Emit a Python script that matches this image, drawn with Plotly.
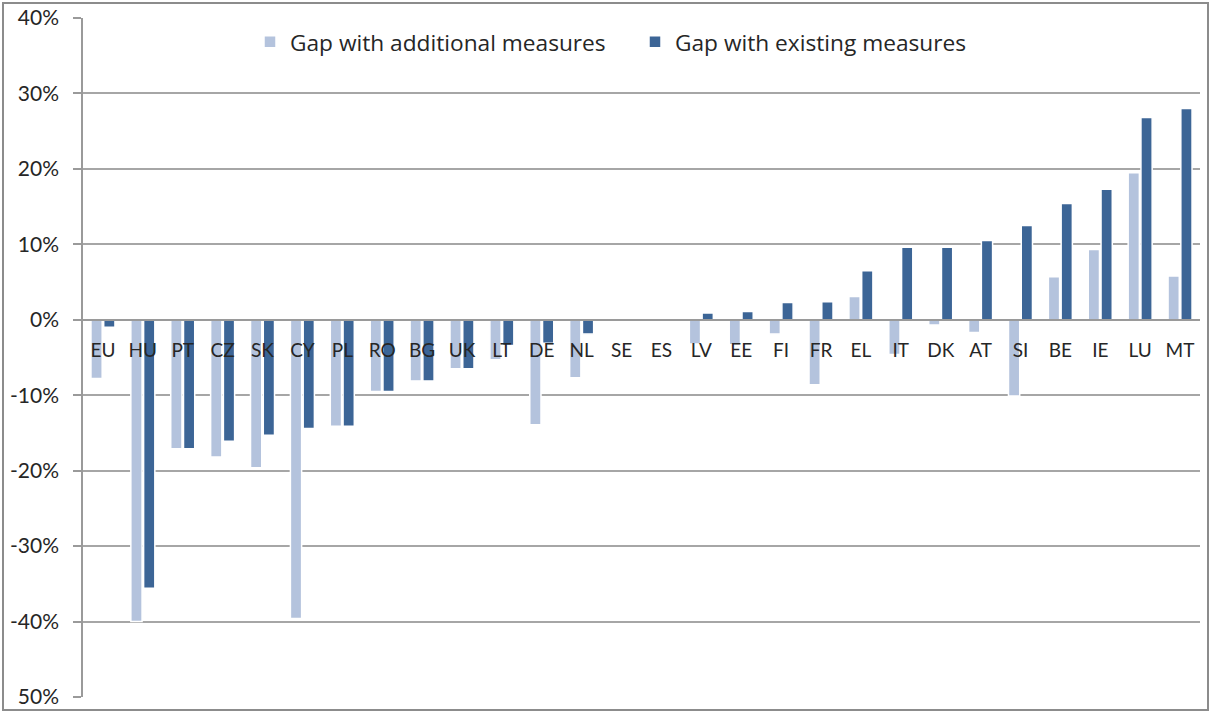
import plotly.graph_objects as go

countries = ["EU", "HU", "PT", "CZ", "SK", "CY", "PL", "RO", "BG", "UK", "LT", "DE", "NL", "SE",
             "ES", "LV", "EE", "FI", "FR", "EL", "IT", "DK", "AT", "SI", "BE", "IE", "LU", "MT"]
gap_additional = [-7.8, -40.0, -17.1, -18.2, -19.6, -39.6, -14.1, -9.5, -8.1, -6.5, -5.3, -13.9, -7.7, -0.2,
                  -0.2, -3.2, -3.3, -1.9, -8.6, 3.1, -4.6, -0.7, -1.7, -10.1, 5.7, 9.3, 19.5, 5.8]
gap_existing = [-1.0, -35.6, -17.1, -16.1, -15.3, -14.4, -14.1, -9.5, -8.1, -6.5, -3.4, -3.1, -1.9, 0.0,
                0.0, 0.9, 1.1, 2.3, 2.4, 6.5, 9.6, 9.6, 10.5, 12.5, 15.4, 17.3, 26.8, 28.0]
y_tickvals = [40, 30, 20, 10, 0, -10, -20, -30, -40, -50]
y_ticktext = ["40%", "30%", "20%", "10%", "0%", "-10%", "-20%", "-30%", "-40%", "50%"]

FONT = "Lato, 'Open Sans', sans-serif"
LFONT = "'Open Sans', Lato, sans-serif"
W, H = 1212, 713
ML, MR, MT, MB = 83, 12, 18, 16
pw, ph = W - ML - MR, H - MT - MB

fig = go.Figure()
fig.add_trace(go.Bar(x=countries, y=gap_additional, name="Gap with additional measures",
                     marker=dict(color="#b4c3dd", line=dict(color="white", width=1.5))))
fig.add_trace(go.Bar(x=countries, y=gap_existing, name="Gap with existing measures",
                     marker=dict(color="#3c6596", line=dict(color="white", width=1.5))))

ymin, ymax = -50, 40
fig.update_layout(
    width=W, height=H,
    margin=dict(l=ML, r=MR, t=MT, b=MB, autoexpand=False),
    paper_bgcolor="white", plot_bgcolor="white",
    barmode="group", bargap=0.36, bargroupgap=0.12,
    font=dict(family=FONT, color="#262626"),
    showlegend=True,
    legend=dict(orientation="h", x=(250 - ML) / pw, xanchor="left",
                y=(H - MB - 42) / ph, yanchor="middle",
                font=dict(size=22.7, family=LFONT, color="#262626"),
                bgcolor="rgba(0,0,0,0)", itemwidth=30, entrywidth=340, entrywidthmode="pixels",
                traceorder="normal"),
    xaxis=dict(anchor="free", position=(0 - ymin) / (ymax - ymin), automargin=False,
               showline=True, linecolor="#9a9a9a", linewidth=1.5,
               showgrid=False, ticks="", ticklabelstandoff=14,
               tickfont=dict(size=19, family=FONT, color="#262626")),
    yaxis=dict(range=[ymin, ymax], tickvals=y_tickvals, ticktext=y_ticktext, automargin=False,
               showgrid=True, gridcolor="#a6a6a6", gridwidth=1.5,
               zeroline=False, showline=True, linecolor="#9a9a9a", linewidth=1.5,
               ticks="outside", ticklen=8, tickcolor="#9a9a9a", tickwidth=1.5,
               ticklabelstandoff=10,
               tickfont=dict(size=21, family=FONT, color="#262626")),
    shapes=[dict(type="rect", xref="paper", yref="paper",
                 x0=(3 - ML) / pw, x1=(1208 - ML) / pw,
                 y0=(H - MB - 710) / ph, y1=(H - MB - 3) / ph,
                 line=dict(color="#8c8c8c", width=2), fillcolor="rgba(0,0,0,0)", layer="below")],
)

fig.write_html("out.html")
